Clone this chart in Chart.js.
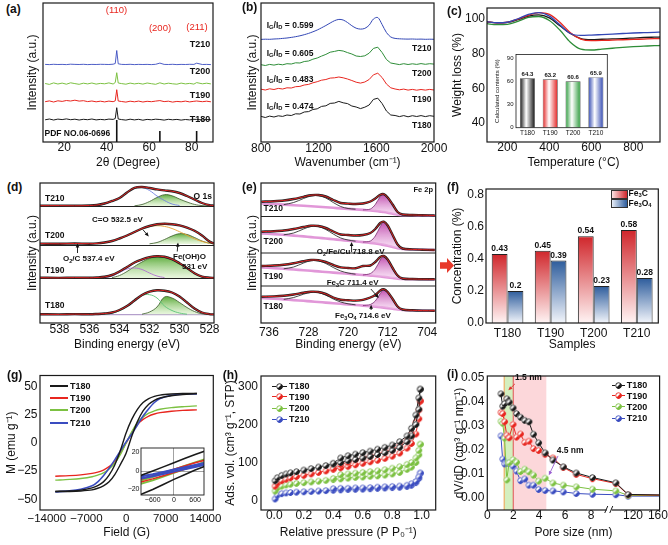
<!DOCTYPE html>
<html><head><meta charset="utf-8">
<script src="https://cdn.jsdelivr.net/npm/chart.js@4.4.1/dist/chart.umd.min.js"></script>
<style>
html,body{margin:0;padding:0;background:#fff}
body{width:668px;height:545px;position:relative;overflow:hidden;font-family:'Liberation Sans',Arial,sans-serif}
canvas{position:absolute}
.t{position:absolute;white-space:nowrap;line-height:1;color:#111}
.t sub{font-size:0.68em;vertical-align:-0.3em;line-height:0}
.t sup{font-size:0.68em;vertical-align:0.45em;line-height:0}
.ln{position:absolute}
</style></head><body>
<script>
// ================= DATA =================
const samples=['T180','T190','T200','T210'];
// (a) XRD
const xrdX=[11,13,15,17,19,21,23,25,27,29,31,33,35,37,39,41,43,44,44.7,45.4,47,49,51,53,55,57,59,61,63,65,67,69,71,73,75,77,79,81,82.3,85,87,89];
const xrdT210=[77.6,77.4,77.7,77.5,77.6,77.4,77.8,77.6,77.5,77.7,77.4,77.6,77.5,77.7,77.6,77.5,77.8,78.5,91.5,78.2,77.6,77.5,77.7,77.4,77.6,77.5,77.6,77.4,77.7,78.9,77.6,77.5,77.7,77.4,77.6,77.5,77.7,77.6,78.8,77.5,77.6,77.4];
const xrdT200=[58.5,57.6,59.1,58.0,58.9,57.8,59.2,58.4,57.7,58.8,58.1,59.0,57.9,58.6,58.2,59.1,58.0,59.5,69.3,59.0,58.4,57.8,58.9,58.1,58.7,57.9,59.0,58.3,57.7,59.2,58.0,58.8,58.2,57.8,58.9,58.1,58.6,57.9,59.4,58.2,58.8,58.1];
const xrdT190=[40.3,41.1,40.0,41.2,40.6,41.5,41.0,41.8,40.9,41.3,40.4,41.0,40.2,40.8,40.1,40.9,40.3,41.2,52.3,41.0,40.5,39.9,40.8,40.2,40.9,40.0,40.7,40.3,40.9,41.4,40.4,40.8,39.9,40.6,40.2,40.9,40.1,40.7,41.0,40.3,40.8,40.2];
const xrdT180=[22.2,23.0,22.0,22.9,22.4,23.1,22.3,22.8,22.0,22.7,22.3,23.0,22.1,22.6,22.2,22.9,22.6,23.5,34.3,23.0,22.4,21.9,22.8,22.1,22.7,21.8,22.6,22.2,22.8,22.5,21.9,22.7,22.2,22.6,21.9,22.5,22.1,22.7,22.6,22.0,22.5,22.2];
const pdfPos=[44.7,65,82.3];
const pdfInt=[22,11,11];
// (b) Raman
const ramX=[800,830,860,890,920,950,980,1010,1040,1070,1100,1130,1160,1190,1220,1250,1280,1310,1340,1370,1400,1430,1460,1490,1520,1550,1580,1610,1640,1670,1700,1730,1760,1790,1820,1850,1880,1910,1940,1970,2000];
const ramT210=[102.6,102.8,102.7,103.0,103.2,103.6,104.0,104.6,105.3,106.2,107.3,108.6,110.2,112.0,114.2,116.5,119.0,121.3,122.6,122.0,119.5,116.3,113.8,112.9,113.6,116.8,123.0,124.5,117.5,109.5,105.0,103.6,103.2,103.0,102.9,103.0,102.8,102.9,102.7,102.8,102.7];
const ramT200=[77.3,76.5,77.6,76.9,77.8,77.2,78.3,78.0,79.2,79.0,80.5,81.0,82.8,84.0,85.9,87.6,89.8,90.6,91.6,91.0,89.4,88.0,86.0,85.5,86.2,88.8,93.6,94.8,89.5,82.5,79.0,78.2,77.4,78.3,77.5,78.2,77.6,78.4,77.7,78.3,77.9];
const ramT190=[52.8,52.0,53.2,52.5,53.6,53.0,54.2,54.0,55.3,55.6,57.0,57.6,59.2,60.3,61.8,62.5,63.9,64.2,65.0,64.2,63.0,61.5,59.8,58.9,60.0,62.5,67.2,68.8,64.5,58.0,54.2,53.0,52.2,52.9,51.9,52.6,51.8,52.5,51.9,52.6,52.0];
const ramT180=[25.6,24.5,25.9,25.0,26.2,25.6,27.0,26.5,28.2,28.0,30.0,30.4,32.5,33.2,35.6,36.2,38.6,39.0,40.6,39.2,38.4,36.0,35.0,33.4,34.8,37.0,42.6,43.8,38.5,31.0,27.0,26.5,25.4,26.4,25.2,26.3,25.5,26.4,25.4,26.3,25.7];
const ramRatio=['0.599','0.605','0.483','0.474'];
// (c) TGA
const tgaX=[100,150,200,250,300,350,400,450,500,550,600,650,700,750,800,850,900,927];
const tgaT180=[98.3,97.6,97.9,99.5,101.5,102.2,100.5,96.0,91.5,88.6,88.0,88.2,88.4,88.6,88.9,89.2,89.4,89.5];
const tgaT190=[98.4,97.7,98.0,99.8,102.0,103.5,102.5,98.0,92.0,88.3,87.4,87.5,87.7,87.9,88.1,88.3,88.5,88.6];
const tgaT200=[97.2,96.6,96.8,98.5,100.8,101.3,99.0,93.5,86.5,82.5,82.0,82.5,83.0,83.5,83.9,84.2,84.5,84.6];
const tgaT210=[98.4,97.7,98.0,100.0,102.5,103.5,101.5,96.5,91.5,90.4,90.6,90.9,91.2,91.5,91.8,92.0,92.2,92.3];
const tgaContent=[64.3,63.2,60.6,65.9];
// (d) XPS O 1s
const dX=[539.3,538,537,536,535.5,535,534.5,534,533.5,533,532.5,532,531.5,531,530.5,530,529.5,529,528.5,528,527.7];
const dSep=[116.5,77.5,44.5];
const dBase=[117.1,79.1,45.1,8.6];
const dT210env=[117.3,117.4,117.2,117.5,118,119.5,122,125,130.5,135.2,136,135,133.6,132.6,131.8,130,127,123.5,120,117.8,117.4];
const dT210blue=[null,null,null,null,117.5,119,121.8,125,130.3,134.8,135.5,132.5,127,122.5,119,117.5,null,null,null,null,null];
const dT210green=[null,null,null,null,null,null,null,null,null,117.2,118.5,121.5,125.5,128.3,127.2,124,121,118.6,117.4,117.1,null];
const dT200env=[79.4,79.2,79.5,79.3,79.6,80.5,82,84.5,87.5,91,94.5,97,98.7,99.2,98.8,97.6,95.4,92.2,87.5,81.5,79.5];
const dT200orange=[null,null,null,null,79.3,80.3,81.8,84.2,87.2,90.6,94,96.3,97.3,96.6,94.5,91.3,87.8,84.2,81.6,79.8,79.2];
const dT200green=[null,null,null,null,null,null,null,null,null,null,null,79.2,80.5,83.5,87,89.3,88.5,85.5,82,79.8,79.2];
const dT190env=[45.3,45.1,45.4,45.2,45.5,46.2,48,51.5,56,60.5,63.5,65.8,66.8,66.2,63.8,59.8,55,49.8,46.4,45.3,45.1];
const dT190green=[null,null,null,null,null,null,45.3,47.5,51.5,56.5,61,64.6,66.3,65.6,63.2,59.2,54.4,49.5,46.2,45.1,null];
const dT190purple=[null,null,null,null,null,45.3,47,50.5,54,55,53.5,50,47,45.4,null,null,null,null,null,null,null];
const dT180env=[8.8,8.6,8.9,8.7,9,9.5,10.5,13,17,22.5,28,31.3,32.7,32.3,30.5,26.5,20.5,14.5,10.5,8.9,8.6];
const dT180line=[null,null,null,null,null,8.7,9.8,12.3,16.5,22.5,27.5,28.3,25,17,12.5,10,8.8,null,null,null,null];
const dT180green=[null,null,null,null,null,null,null,null,null,null,8.8,11,16,26,25,20.5,15.5,11.5,9.2,8.6,null];
const dArrows=[[532.45,93.5,532.05,86.5],[536.8,70,536.8,79.5],[530.15,71.5,530.1,80.5]];
// (e) XPS Fe 2p
const eX=[737.5,735,733,731,729,727.5,726,724.5,723,721.5,720,718.5,717,715.5,714.5,713.5,712.8,712,711,710,709,707,705,702.5];
const eSep=[106.5,70,37];
const eT210env=[121.3,121.8,122.5,124,126.2,127.8,128,126.5,123,120,119.4,119,119.5,121.5,124.5,128.3,128.8,125.5,118.5,111,108.5,108,107.8,107.5];
const eT210bg=[119.5,119,118.4,117.8,117.2,116.7,116.2,115.7,115.2,114.6,114.1,113.6,113.1,112.5,112,111.4,111,110.3,109.2,108.3,107.9,107.7,107.5,107.3];
const eT210main=[null,null,null,null,null,null,null,null,null,null,null,null,113.1,114,118.5,126.5,128.5,125,117.8,110.8,107.9,null,null,null];
const eT210sat=[null,null,118.4,120.5,124.5,127,127.3,125,120.5,116.5,114.5,113.8,null,null,null,null,null,null,null,null,null,null,null,null];
const eT200env=[91.3,91.8,92.5,94,96,97.3,97,95,91.5,88.5,88,87.5,88,90,94,100,101.3,97.5,88,78.5,74.5,73.6,73.3,73];
const eT200bg=[89.5,88.9,88.2,87.4,86.6,85.9,85.2,84.5,83.8,83,82.3,81.6,80.9,80.1,79.5,78.7,78.1,77.3,76,74.8,74,73.5,73.2,73];
const eT200main=[null,null,null,null,null,null,null,null,null,null,null,null,80.9,82,87,96.5,100.8,97,87.5,78.3,74.2,null,null,null];
const eT200sat=[null,null,88.2,90,94,96.5,96.4,93.5,89,85,83,81.8,null,null,null,null,null,null,null,null,null,null,null,null];
const eT190env=[57,57.5,58.3,59.8,61.8,63,62.8,61,58,55.6,55,54.7,57,57.5,61,66,67,63.5,55,47.5,44.5,44,43.8,43.7];
const eT190bg=[55.5,54.9,54.2,53.5,52.8,52.2,51.6,51,50.4,49.8,49.2,48.6,48,47.4,47,46.5,46.1,45.6,45,44.4,44,43.8,43.7,43.6];
const eT190main=[null,null,null,null,null,null,null,null,null,null,null,null,48,49.5,54,63,66.5,63,54.5,46.5,44.1,null,null,null];
const eT190sat=[null,null,54.2,56,60,62.3,62.2,59.5,55.5,52,50,48.8,null,null,null,null,null,null,null,null,null,null,null,null];
const eT180env=[26.3,26.6,27.2,28.5,30.3,31.3,31,29,25.5,23.3,22.8,22.4,23.2,25.5,28,32.5,33.7,31,24,16.5,13.5,12.7,12.4,12.3];
const eT180bg=[25,24.3,23.6,22.9,22.2,21.6,21,20.4,19.8,19.2,18.6,18,17.4,16.8,16.3,15.8,15.4,14.9,14.2,13.5,13,12.6,12.4,12.2];
const eT180main=[null,null,null,null,null,null,null,null,null,null,null,null,17.4,18.5,22,29.5,33.3,30.5,23.5,15.5,13,null,null,null];
const eT180sat=[null,null,23.6,25.5,28.8,30.6,30.4,27.8,24,21,19.2,18.2,null,null,null,null,null,null,null,null,null,null,null,null];
const eArrows=[[719.3,71,719.3,81],[715.4,34,713.8,25],[715.35,13,715.35,18.3]];
// (f) Fe3C / Fe3O4
const fFe3C=[0.43,0.45,0.54,0.58];
const fFe3O4=[0.2,0.39,0.23,0.28];
// (g) M-H loops
const gH=[-12500,-10000,-8000,-6000,-5000,-4000,-3000,-2000,-1000,0,1000,2000,3000,4000,5000,6000,8000,10000,12500];
const gT180up=[-43,-42.6,-41.8,-39.8,-37.8,-34.5,-28.5,-19.5,-6.5,9,21,30,36,39.5,41.5,42.6,43.5,44,44];
const gT180dn=[-43,-43,-42.6,-41.6,-40.2,-38,-34.5,-28,-19,-9,6,19,28.5,34.5,38,40,42,43,44];
const gT190=[-29.5,-29,-28.3,-27,-25.8,-24,-21,-16.5,-9,0,9,16.5,21,24,25.8,27,28.3,29,29.5];
const gT200=[-33,-32.3,-31.5,-30,-28.5,-26.5,-23,-18,-10,0,10,18,23,26.5,28.5,30,31.5,32.3,33];
const gT210=[-43.5,-42.5,-41,-38,-34.5,-29,-22.5,-15,-7,1,8,16,24,30.5,36,39.5,42.5,43.5,43.5];
const giH=[-950,-600,-300,0,300,600,900];
const giT180up=[-5,0,4.5,9,13.5,18,22];
const giT180dn=[-25.5,-20,-14.5,-9,-4,1,5.5];
const giT190up=[-9,-5,-1.5,2,5.5,9,12];
const giT190dn=[-12,-8.5,-5,-1.5,2,5.5,9];
const giT200up=[-10.5,-6.5,-2.5,1.5,5.5,9.5,13];
const giT200dn=[-14,-10,-6,-2,2,6,10.5];
const giT210up=[-6,-3.5,-1,1.5,4,6.5,9];
const giT210dn=[-8,-5.5,-3,-0.5,2,4.5,7];
// (h) N2 isotherms
const hPa=[0.005,0.02,0.05,0.08,0.11,0.15,0.2,0.25,0.3,0.35,0.4,0.45,0.5,0.55,0.6,0.65,0.7,0.75,0.8,0.85,0.9,0.93,0.96,0.98,0.99];
const hPd=[0.99,0.98,0.96,0.93,0.9,0.85,0.8,0.75,0.7,0.65,0.6,0.55,0.5,0.45,0.4];
const hT180a=[52,60,66,70,73,76,80,84,88,92,96,100,105,108,112,116,121,126,132,140,155,170,200,240,293];
const hT180d=[293,270,225,190,170,155,146,140,135,130,126,122,118,112,98];
const hT190a=[38,46,52,56,60,63,66,70,74,78,82,86,90,94,98,102,106,111,117,125,138,150,175,215,262];
const hT190d=[262,238,205,175,158,145,134,128,122,117,112,107,101,95,84];
const hT200a=[25,33,38,41,43,45,47,49,51,53,55,57,59,61,62,64,65,67,70,74,82,88,100,120,148];
const hT200d=[148,132,112,100,95,89,85,81,78,76,74,72,70,68,58];
const hT210a=[4,14,18,20,21,22,23,24,25,26,27,28,29,29.5,30,31,32,33,34,35,37,40,47,58,72];
const hT210d=[72,62,50,44,40,38,37,36,35,34,33,33,32,32,31];
// (i) pore size distribution
const iD=[1.05,1.18,1.33,1.5,1.68,1.98,2.25,2.55,2.88,3.2,3.55,3.95,4.45,5.05,5.85,6.85,8.1,9.9,112,165];
const iT180=[0.0433,0.0381,0.0392,0.0412,0.0398,0.0374,0.035,0.0335,0.0322,0.0316,0.0264,0.0228,0.0186,0.0156,0.0128,0.0102,0.0083,0.0061,0.0012,0.001];
const iT190=[0.0355,0.035,0.0316,0.026,0.0249,0.0305,0.0252,0.0265,0.023,0.0235,0.0204,0.0196,0.018,0.0165,0.0125,0.0096,0.0078,0.0058,0.0011,0.0009];
const iT200=[0.0318,0.031,0.0248,0.0073,0.0145,0.0158,0.0147,0.0108,0.0118,0.0107,0.0093,0.0068,0.008,0.006,0.0051,0.0044,0.0034,0.0027,0.0008,0.0007];
const iT210=[0.0257,0.016,0.014,0.0143,0.0143,0.0131,0.011,0.007,0.0077,0.0051,0.0051,0.0033,0.0029,0.0027,0.0023,0.0016,0.0013,0.0011,0.0005,0.0005];
const iTicks=[0,2,4,6,8,120,160];
const iGreenBand=[1.3,2.0];
const iPinkBand=[2.0,4.55];
const iArrows=[[2.13,0.0474,1.62,0.0447,'#e03030'],[5.45,0.0173,4.74,0.0092,'#9a60d0']];

// ================= SETUP =================
const FF="'Liberation Sans', Arial, sans-serif";
Chart.defaults.font.family=FF;
Chart.defaults.color='#111';
Chart.defaults.animation=false;
Chart.defaults.responsive=false;
Chart.defaults.maintainAspectRatio=false;
Chart.defaults.events=[];
Chart.defaults.plugins.legend.display=false;
Chart.defaults.plugins.tooltip.enabled=false;

const C={k:'#1a1a1a',r:'#e8261f',g:'#7cc142',b:'#3a4cc0',g2:'#2e8d38',b2:'#3347b5'};
const pts=(xs,ys)=>xs.map((x,i)=>({x:x,y:ys[i]}));
function ln(data,col,w,o){return Object.assign({data:data,borderColor:col,borderWidth:w,pointRadius:0,showLine:true,fill:false,tension:0},o||{});}
function fmtDef(v){return (v<0?'\u2212':'')+Math.abs(v);}
function lin(min,max,ticks,o){
  o=o||{};
  return {type:'linear',min:min,max:max,reverse:!!o.rev,
    grid:{display:false,drawTicks:false},border:{display:false},
    afterBuildTicks:s=>{s.ticks=(ticks||[]).map(v=>({value:v}));},
    ticks:{display:!!ticks,autoSkip:false,maxRotation:0,minRotation:0,padding:(o.pad!=null?o.pad:0),
      font:{size:o.fs||12,lineHeight:1},color:'#111',callback:o.cb||fmtDef},
    title:{display:!!o.title,text:o.title||'',padding:0,font:{size:o.tfs||12,lineHeight:1},color:'#111'}};
}
function chartAt(g,cfg){
  const c=document.createElement('canvas');
  const w=g.cr-g.cl,h=g.cb-g.ct;
  c.width=w;c.height=h;c.style.left=g.cl+'px';c.style.top=g.ct+'px';c.style.width=w+'px';c.style.height=h+'px';
  document.body.appendChild(c);
  const o=cfg.options;
  o.layout={padding:{left:0,top:g.T-g.ct,right:g.cr-g.R,bottom:0},autoPadding:false};
  const yW=g.L-g.cl,xH=g.cb-g.B;
  o.scales.x.afterFit=s=>{s.height=xH;};
  o.scales.y.afterFit=s=>{s.width=yW;};
  o.responsive=false;o.animation=false;o.devicePixelRatio=1;
  return new Chart(c,cfg);
}
function framePI(op){
  op=op||{};
  return {id:'frame',
    beforeDraw(ch){ if(!op.bg) return; const a=ch.chartArea,c=ch.ctx; c.save(); c.fillStyle=op.bg; c.fillRect(a.left,a.top,a.width,a.height); c.restore(); },
    beforeDatasetsDraw(ch){
      if(!op.bands) return; const a=ch.chartArea,c=ch.ctx,xs=ch.scales.x;
      op.bands.forEach(b=>{ const x1=xs.getPixelForValue(b.from),x2=xs.getPixelForValue(b.to);
        c.save(); c.fillStyle=b.color; c.fillRect(x1,a.top,x2-x1,a.height);
        c.strokeStyle=b.edge; c.lineWidth=1; c.beginPath(); c.moveTo(x1,a.top); c.lineTo(x1,a.bottom); c.stroke(); c.restore(); });
    },
    afterDraw(ch){
      const a=ch.chartArea,c=ch.ctx; c.save();
      c.strokeStyle='#1a1a1a'; c.lineWidth=op.lw||1.2; c.strokeRect(a.left,a.top,a.width,a.height);
      if(op.brk!=null){ const x=ch.scales.x.getPixelForValue(op.brk);
        c.fillStyle='#fff'; c.fillRect(x-2.5,a.bottom-3,5,6);
        c.lineWidth=1; c.beginPath(); c.moveTo(x-4.5,a.bottom+3); c.lineTo(x-1.5,a.bottom-4); c.moveTo(x+0.5,a.bottom+3); c.lineTo(x+3.5,a.bottom-4); c.stroke(); }
      c.restore(); }
  };
}
function arrowsPI(list){
  return {id:'arrows',afterDatasetsDraw(ch){
    const c=ch.ctx,xs=ch.scales.x,ys=ch.scales.y;
    list.forEach(r=>{ const x1=xs.getPixelForValue(r[0]),y1=ys.getPixelForValue(r[1]),x2=xs.getPixelForValue(r[2]),y2=ys.getPixelForValue(r[3]);
      const col=r[4]||'#111',an=Math.atan2(y2-y1,x2-x1),h=4.5;
      c.save(); c.strokeStyle=col; c.fillStyle=col; c.lineWidth=0.9;
      c.beginPath(); c.moveTo(x1,y1); c.lineTo(x2-Math.cos(an)*h*0.7,y2-Math.sin(an)*h*0.7); c.stroke();
      c.beginPath(); c.moveTo(x2,y2); c.lineTo(x2-h*Math.cos(an-0.42),y2-h*Math.sin(an-0.42)); c.lineTo(x2-h*Math.cos(an+0.42),y2-h*Math.sin(an+0.42)); c.closePath(); c.fill(); c.restore(); });
  }};
}
function barLabPI(font,fmt,off){
  return {id:'barlab',afterDatasetsDraw(ch){
    const c=ch.ctx; c.save(); c.font=font; c.fillStyle='#111'; c.textAlign='center'; c.textBaseline='bottom';
    ch.data.datasets.forEach((ds,i)=>{ ch.getDatasetMeta(i).data.forEach((el,j)=>{ c.fillText(fmt(ds.data[j]),el.x,el.y-off); }); });
    c.restore(); }};
}
function vgrad(c1,c2,base){
  return ctx=>{ const ch=ctx.chart; if(!ch.chartArea||!ctx.dataset) return c2;
    const ys=ch.scales.y; const vals=ctx.dataset.data.map(p=>p.y).filter(v=>v!=null);
    const top=ys.getPixelForValue(Math.max.apply(null,vals)),bot=ys.getPixelForValue(base!=null?base:Math.min.apply(null,vals));
    if(!isFinite(top)||!isFinite(bot)||top===bot) return c2;
    const gr=ch.ctx.createLinearGradient(0,top,0,bot); gr.addColorStop(0,c1); gr.addColorStop(1,c2); return gr; };
}
function barVGrad(c1,c2){
  return ctx=>{ const ch=ctx.chart; if(ctx.type!=='data'||!ch.chartArea) return c1;
    const ys=ch.scales.y; const top=ys.getPixelForValue(ctx.raw),bot=ys.getPixelForValue(0);
    if(!isFinite(top)||!isFinite(bot)||top===bot) return c1;
    const gr=ch.ctx.createLinearGradient(0,top,0,bot); gr.addColorStop(0,c1); gr.addColorStop(1,c2); return gr; };
}
function barHGrad(cols,hw){
  return ctx=>{ const ch=ctx.chart; if(ctx.type!=='data'||!ch.chartArea) return '#888';
    const col=cols[ctx.dataIndex]; const x=ch.scales.x.getPixelForValue(ctx.dataIndex);
    if(!isFinite(x)) return col;
    const gr=ch.ctx.createLinearGradient(x-hw,0,x+hw,0); gr.addColorStop(0,col); gr.addColorStop(0.42,'#ffffff'); gr.addColorStop(1,col); return gr; };
}
function ball(col,r){
  const s=Math.ceil(2*r+2),c=document.createElement('canvas'); c.width=c.height=s;
  const g=c.getContext('2d'),m=s/2;
  g.beginPath(); g.arc(m,m,r,0,2*Math.PI); g.fillStyle='#fff'; g.fill();
  g.beginPath(); g.moveTo(m,m); g.arc(m,m,r,Math.PI*0.75,Math.PI*1.75,true); g.closePath(); g.fillStyle=col; g.fill();
  g.beginPath(); g.arc(m,m,r-0.45,0,2*Math.PI); g.lineWidth=0.9; g.strokeStyle=col; g.stroke();
  return c;
}
function txt(x,y,html,o){
  o=o||{}; const d=document.createElement('div'); d.className='t'; d.innerHTML=html;
  d.style.fontSize=(o.s||9)+'px'; d.style.fontWeight=(o.b===false?'normal':'bold');
  if(o.c) d.style.color=o.c;
  d.style.left=x+'px'; d.style.top=y+'px';
  const tx=o.a==='c'?'-50%':(o.a==='r'?'-100%':'0');
  d.style.transform='translate('+tx+',-50%)';
  document.body.appendChild(d);
}
function legItem(x1,x2,y,col,label,tx,ballR,lw){
  const d=document.createElement('div'); d.className='ln';
  d.style.left=x1+'px'; d.style.top=(y-lw/2)+'px'; d.style.width=(x2-x1)+'px'; d.style.height=lw+'px'; d.style.background=col;
  document.body.appendChild(d);
  if(ballR){ const b=ball(col,ballR); b.style.left=((x1+x2)/2-b.width/2)+'px'; b.style.top=(y-b.height/2)+'px'; document.body.appendChild(b); }
  txt(tx,y,label,{s:9});
}

// ================= (a) =================
(function(){
  const ds=[ln(pts(xrdX,xrdT210),C.b,0.9),ln(pts(xrdX,xrdT200),C.g,1),ln(pts(xrdX,xrdT190),C.r,1),ln(pts(xrdX,xrdT180),C.k,1)];
  pdfPos.forEach((p,i)=>ds.push(ln([{x:p,y:0},{x:p,y:pdfInt[i]}],'#111',1.6)));
  chartAt({L:43,T:3,R:213,B:142,cl:27,ct:0,cr:222,cb:169},{type:'scatter',data:{datasets:ds},
    options:{scales:{x:lin(10,90,[20,40,60,80],{title:'2θ (Degree)'}),y:lin(0,139,null,{title:'Intensity (a.u.)'})},plugins:{}},plugins:[framePI()]});
})();
// ================= (b) =================
(function(){
  const ds=[ln(pts(ramX,ramT210),C.b2,1,{tension:0.3}),ln(pts(ramX,ramT200),C.g2,1),ln(pts(ramX,ramT190),C.r,1),ln(pts(ramX,ramT180),C.k,1)];
  chartAt({L:261,T:3,R:434,B:142,cl:247,ct:0,cr:449,cb:169},{type:'scatter',data:{datasets:ds},
    options:{scales:{x:lin(800,2000,[800,1200,1600,2000],{title:'Wavenumber (cm\u207B\u00B9)',pad:1}),y:lin(0,139,null,{title:'Intensity (a.u.)'})}},plugins:[framePI()]});
})();
// ================= (c) =================
(function(){
  const m={cubicInterpolationMode:'monotone'};
  const ds=[ln(pts(tgaX,tgaT210),C.b2,1.3,m),ln(pts(tgaX,tgaT190),C.r,1.3,m),ln(pts(tgaX,tgaT180),C.k,1.3,m),ln(pts(tgaX,tgaT200),C.g2,1.3,m)];
  chartAt({L:487,T:1,R:660,B:142,cl:452,ct:0,cr:668,cb:169},{type:'scatter',data:{datasets:ds},
    options:{scales:{x:lin(103,927,[200,400,600,800],{title:'Temperature (\u00B0C)'}),y:lin(29,106.2,[40,60,80,100],{title:'Weight loss (%)',pad:2})}},plugins:[framePI()]});
  // inset
  chartAt({L:516,T:51.7,R:607.3,B:127.7,cl:494,ct:49,cr:611,cb:140},{type:'bar',
    data:{labels:samples,datasets:[{data:tgaContent,backgroundColor:barHGrad(['#111111','#e32222','#2a9a3a','#2f46b0'],7.5),borderColor:'#444',borderWidth:0.7,categoryPercentage:0.66,barPercentage:1}]},
    options:{scales:{x:{type:'category',grid:{display:false,drawTicks:false},border:{display:false},ticks:{font:{size:6.5,lineHeight:1},padding:2,color:'#111',maxRotation:0,autoSkip:false}},
      y:lin(0,95.4,[0,30,60,90],{title:'Calculated contents (%)',fs:6,tfs:6,pad:2.5})}},
    plugins:[framePI({lw:0.8,bg:'#fff'}),barLabPI('bold 6px '+FF,v=>v.toFixed(1),1)]});
})();
// ================= (d) =================
(function(){
  const ds=[];
  const envs=[dT210env,dT200env,dT190env,dT180env];
  envs.forEach(e=>{ ds.push(ln(pts(dX,e),'#e02020',1,{tension:0.35,order:0})); ds.push(ln(pts(dX,e),'#222',2.4,{tension:0.35,order:1})); });
  ds.push(ln(pts(dX,dT210blue),'#6f80e0',0.9,{tension:0.4,order:2}));
  ds.push(ln(pts(dX,dT200orange),'#e8a030',0.9,{tension:0.4,order:2}));
  ds.push(ln(pts(dX,dT190purple),'#b070d0',0.9,{tension:0.4,order:2}));
  ds.push(ln(pts(dX,dT180line),'#5cc477',0.9,{tension:0.4,order:2}));
  [[dT210green,dBase[0]],[dT200green,dBase[1]],[dT190green,dBase[2]],[dT180green,dBase[3]]].forEach(p=>{
    ds.push(ln(pts(dX,p[0]),'#3b5a2a',0.8,{tension:0.4,order:3,fill:{value:p[1]},backgroundColor:vgrad('rgba(80,165,45,0.9)','rgba(215,240,195,0.55)',p[1])})); });
  dSep.forEach(s=>ds.push(ln([{x:527.7,y:s},{x:539.3,y:s}],'#222',1.2,{order:4})));
  ds.push(ln([{x:527.7,y:dBase[3]-0.3},{x:539.3,y:dBase[3]-0.3}],'#8a6ab0',0.8,{order:4}));
  chartAt({L:40,T:183,R:214,B:323,cl:27,ct:181,cr:225,cb:351},{type:'scatter',data:{datasets:ds},
    options:{scales:{x:lin(527.7,539.3,[538,536,534,532,530,528],{rev:true,title:'Binding energy (eV)',pad:1}),y:lin(0,140,null,{title:'Intensity (a.u.)'})}},
    plugins:[framePI(),arrowsPI(dArrows)]});
})();
// ================= (e) =================
(function(){
  const ds=[];
  const sets=[[eT210env,eT210bg,eT210main,eT210sat],[eT200env,eT200bg,eT200main,eT200sat],[eT190env,eT190bg,eT190main,eT190sat],[eT180env,eT180bg,eT180main,eT180sat]];
  sets.forEach(s=>{
    const bgIdx=ds.length;
    ds.push(ln(pts(eX,s[1]),'rgba(222,140,212,0.9)',2.6,{order:4,tension:0.2}));
    ds.push(ln(pts(eX,s[2]),'#7a2a70',0.8,{order:3,tension:0.35,fill:bgIdx,backgroundColor:vgrad('rgba(185,60,165,0.9)','rgba(245,205,240,0.55)')}));
    ds.push(ln(pts(eX,s[3]),'#333',0.9,{order:2,tension:0.35}));
    ds.push(ln(pts(eX,s[0]),'#222',2.4,{order:1,tension:0.3}));
    ds.push(ln(pts(eX,s[0]),'#e02020',1,{order:0,tension:0.3}));
  });
  eSep.forEach(s=>ds.push(ln([{x:702.3,y:s},{x:737.6,y:s}],'#222',1.2,{order:5})));
  chartAt({L:261,T:183,R:435.7,B:323,cl:247,ct:181,cr:446,cb:351},{type:'scatter',data:{datasets:ds},
    options:{scales:{x:lin(702.3,737.6,[736,728,720,712,704],{rev:true,title:'Binding energy (eV)',pad:4}),y:lin(0,140,null,{title:'Intensity (a.u.)'})}},
    plugins:[framePI(),arrowsPI(eArrows)]});
})();
// ================= (f) =================
(function(){
  chartAt({L:486,T:184,R:658.3,B:323,cl:452,ct:181,cr:668,cb:351},{type:'bar',
    data:{labels:samples,datasets:[
      {label:'Fe3C',data:fFe3C,backgroundColor:barVGrad('#d0262b','#fff4f4'),borderColor:'#222',borderWidth:1,categoryPercentage:0.735,barPercentage:1},
      {label:'Fe3O4',data:fFe3O4,backgroundColor:barVGrad('#2d5c9c','#f2f5fb'),borderColor:'#222',borderWidth:1,categoryPercentage:0.735,barPercentage:1}]},
    options:{scales:{x:{type:'category',grid:{display:false,drawTicks:false},border:{display:false},
        ticks:{font:{size:12,lineHeight:1},padding:5,color:'#111',maxRotation:0,autoSkip:false},
        title:{display:true,text:'Samples',padding:0,font:{size:12,lineHeight:1},color:'#111'}},
      y:lin(0,0.835,[0,0.2,0.4,0.6,0.8],{title:'Concentration (%)',pad:2,cb:v=>v.toFixed(1)})}},
    plugins:[framePI(),barLabPI('bold 8.5px '+FF,v=>String(v),1)]});
})();
// ================= (g) =================
(function(){
  const ds=[ln(pts(gH,gT180up),C.k,1.4,{tension:0.3}),ln(pts(gH,gT180dn),C.k,1.4,{tension:0.3}),
    ln(pts(gH,gT210),C.b,1.6,{tension:0.3}),ln(pts(gH,gT200),C.g,1.4,{tension:0.3}),ln(pts(gH,gT190),C.r,1.4,{tension:0.3})];
  chartAt({L:40,T:370,R:213.3,B:510,cl:6,ct:367,cr:230,cb:539},{type:'scatter',data:{datasets:ds},
    options:{scales:{x:lin(-15200,15400,[-14000,-7000,0,7000,14000],{title:'Field (G)',fs:11.5,pad:3}),y:lin(-59.5,60,[-50,-25,0,25,50],{title:'M (emu g\u207B\u00B9)',pad:2.5})}},
    plugins:[framePI()]});
  const ids=[ln(pts(giH,giT200up),C.g,1.8),ln(pts(giH,giT200dn),C.g,1.8),ln(pts(giH,giT190up),C.r,1.5),ln(pts(giH,giT190dn),C.r,1.5),
    ln(pts(giH,giT210up),C.b,2.2),ln(pts(giH,giT210dn),C.b,2.2),ln(pts(giH,giT180up),C.k,1.6),ln(pts(giH,giT180dn),C.k,1.6)];
  ids.reverse();
  const xs=lin(-930,850,[-600,0,600],{fs:7,pad:1.5}); const ys=lin(-25.9,24.9,[-20,0,20],{fs:7,pad:1.5});
  const gc=c=>(c.tick&&c.tick.value===0)?'#8a8a8a':'rgba(0,0,0,0)';
  xs.grid={display:true,drawTicks:false,drawOnChartArea:true,color:gc,lineWidth:0.8};
  ys.grid={display:true,drawTicks:false,drawOnChartArea:true,color:gc,lineWidth:0.8};
  chartAt({L:141,T:446,R:204,B:495,cl:124,ct:443,cr:209,cb:506},{type:'scatter',data:{datasets:ids},
    options:{scales:{x:xs,y:ys}},plugins:[framePI({lw:0.9,bg:'#fff'})]});
})();
// ================= (h) =================
(function(){
  const mk=(a,d,col)=>ln(pts(hPa,a).concat(pts(hPd,d)),col,1,{pointStyle:ball(col,3.2),pointRadius:3.2});
  const ds=[mk(hT180a,hT180d,C.k),mk(hT190a,hT190d,C.r),mk(hT200a,hT200d,C.g),mk(hT210a,hT210d,C.b)];
  chartAt({L:261,T:370,R:435.7,B:510,cl:225,ct:367,cr:446,cb:539},{type:'scatter',data:{datasets:ds},
    options:{scales:{x:lin(-0.09,1.095,[0,0.2,0.4,0.6,0.8,1.0],{title:'Relative pressure (P P\u2080\u207B\u00B9)',cb:v=>v.toFixed(1)}),
      y:lin(-25.2,327.7,[0,100,200,300],{title:'Ads. vol. (cm\u00B3 g\u207B\u00B9, STP)',pad:3})}},
    plugins:[framePI()]});
})();
// ================= (i) =================
(function(){
  const brk=v=>v<=10.2?v:10.27+(v-100)*0.048;
  const last=iD.length-1;
  const mk=(ys,col)=>ln(iD.map((d,i)=>({x:brk(d),y:ys[i]})),col,1,{pointStyle:ball(col,3.2),pointRadius:c=>c.dataIndex===last?0:3.2});
  const ds=[mk(iT180,C.k),mk(iT190,C.r),mk(iT200,C.g),mk(iT210,C.b)];
  chartAt({L:487.3,T:370,R:660,B:510,cl:454,ct:367,cr:668,cb:539},{type:'scatter',data:{datasets:ds},
    options:{scales:{x:lin(0,13.28,iTicks.map(brk),{title:'Pore size (nm)',cb:v=>v<=10.2?String(Math.round(v)):String(Math.round(100+(v-10.27)/0.048))}),
      y:lin(-0.0053,0.0507,[0,0.01,0.02,0.03,0.04,0.05],{title:'dV/dD (cm\u00B3 g\u207B\u00B9 nm\u207B\u00B9)',pad:3,cb:v=>v.toFixed(2)})}},
    plugins:[framePI({bands:[{from:brk(iGreenBand[0]),to:brk(iGreenBand[1]),color:'rgba(205,236,180,0.85)',edge:'#f0a050'},{from:brk(iPinkBand[0]),to:brk(iPinkBand[1]),color:'rgba(252,208,212,0.85)',edge:'#e05050'}],brk:9.4}),
      arrowsPI(iArrows.map(r=>[brk(r[0]),r[1],brk(r[2]),r[3],r[4]]))]});
})();

// ================= TEXT & LEGENDS =================
const cols=[C.k,C.r,C.g,C.b];
// (a)
txt(6,8.5,'(a)',{s:12});
txt(116.5,9.5,'(110)',{s:9.5,b:false,c:'#e8261f',a:'c'});
txt(160,28.3,'(200)',{s:9.5,b:false,c:'#e8261f',a:'c'});
txt(197,26.7,'(211)',{s:9.5,b:false,c:'#e8261f',a:'c'});
[['T210',44],['T200',70.7],['T190',95],['T180',119]].forEach(p=>txt(200,p[1],p[0],{s:9,a:'c'}));
txt(44.5,132.7,'PDF NO.06-0696',{s:8.5});
// (b)
txt(242,7,'(b)',{s:12});
[25,53.3,79,106].forEach((y,i)=>txt(266.7,y,'I<sub>G</sub>/I<sub>D</sub> = '+ramRatio[i],{s:8.5}));
[['T210',48.3],['T200',73.3],['T190',99.3],['T180',125]].forEach(p=>txt(421.7,p[1],p[0],{s:8.5,a:'c'}));
// (c)
txt(447,11,'(c)',{s:12});
// (d)
txt(7,186.5,'(d)',{s:12});
[['T210',198.3],['T200',235],['T190',270],['T180',305]].forEach(p=>txt(45,p[1],p[0],{s:8.5}));
txt(212,196,'O 1s',{s:8.5,a:'r'});
txt(92,220,'C=O 532.5 eV',{s:8});
txt(63,259.3,'O<sub>2</sub>/C 537.4 eV',{s:8});
txt(173,256.7,'Fe(OH)O',{s:8});
txt(182,267.3,'531 eV',{s:8});
// (e)
txt(242,186.5,'(e)',{s:12});
txt(433,190,'Fe 2p',{s:7.5,a:'r'});
[['T210',208.3],['T200',241],['T190',275.7],['T180',306]].forEach(p=>txt(263.5,p[1],p[0],{s:8.5}));
txt(316.7,251.7,'O<sub>2</sub>/Fe/Cu 718.8 eV',{s:8});
txt(326.7,283.3,'Fe<sub>3</sub>C 711.4 eV',{s:8});
txt(335,315.7,'Fe<sub>3</sub>O<sub>4</sub> 714.6 eV',{s:8});
// red block arrow
(function(){const d=document.createElement('div');d.style.cssText='position:absolute;left:440px;top:258px;width:14px;height:15px;background:#e8392b;clip-path:polygon(0 28%,50% 28%,50% 0,100% 50%,50% 100%,50% 72%,0 72%)';document.body.appendChild(d);})();
// (f)
txt(447,187,'(f)',{s:12});
(function(){
  const sw=(y,bg)=>{const d=document.createElement('div');d.style.cssText='position:absolute;left:611px;top:'+(y-3.8)+'px;width:15px;height:7px;border:0.8px solid #333;background:'+bg;document.body.appendChild(d);};
  sw(193.3,'linear-gradient(to right,#fbe3e3,#d0262b)'); sw(202.7,'linear-gradient(to right,#e8eef8,#2d5c9c)');
  txt(628.5,193.3,'Fe<sub>3</sub>C',{s:8.5}); txt(628.5,202.7,'Fe<sub>3</sub>O<sub>4</sub>',{s:8.5});
})();
// (g)
txt(7,375,'(g)',{s:12});
[385.7,397.7,410,423.3].forEach((y,i)=>legItem(50,68,y,cols[i],samples[i],70,0,1.8));
// (h)
txt(222.7,375,'(h)',{s:12});
[386,396.7,408.3,419.3].forEach((y,i)=>legItem(271.7,286.7,y,cols[i],samples[i],289,3.2,1));
// (i)
txt(447,374,'(i)',{s:12});
[385,395.5,406.7,418.3].forEach((y,i)=>legItem(611.7,625,y,cols[i],samples[i],626.7,3.2,1));
txt(515,376.7,'1.5 nm',{s:8.5});
txt(556.7,450,'4.5 nm',{s:8.5});
</script>
</body></html>
